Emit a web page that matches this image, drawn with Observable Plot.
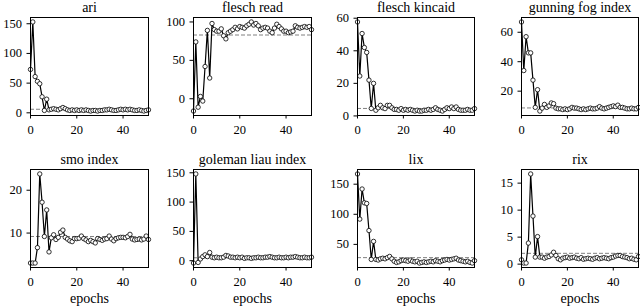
<!DOCTYPE html>
<html><head><meta charset="utf-8">
<script src="https://cdn.jsdelivr.net/npm/d3@7"></script>
<script src="https://cdn.jsdelivr.net/npm/@observablehq/plot@0.6"></script>
<style>
body{margin:0;background:#fff}
#chart{position:relative;width:640px;height:306px;overflow:hidden}
#chart svg{position:absolute;left:0;top:0}
</style>
</head><body><div id="chart"></div>
<script>
const epochs = Array.from({length: 52}, (_, i) => i);
const xTicks = [0, 20, 40];

const titles = ["ari", "flesch read", "flesch kincaid", "gunning fog index",
  "smo index", "goleman liau index", "lix", "rix"];

const ari = [73,153,61,53,49,27,4,23,5,6,7,6,5,7,9,7,5,4,5,4,5,4,5,4,5,4,3,4,4,3,4,4,5,5,6,5,4,4,5,6,5,6,5,6,5,4,4,5,4,3,4,5];
const fleschRead = [-16,74,-11,3,-3,42,89,27,98,90,88,88,91,82,78,86,88,90,93,91,94,93,92,95,97,100,96,98,95,90,92,93,92,88,86,92,97,94,91,88,88,86,87,88,95,93,92,93,94,93,94,90];
const fleschKincaid = [57.7,24.5,50.6,42,39,22,4.6,20,3.5,5,6.5,5,4.5,6.5,6.5,5,4,4,3.5,4.5,3.5,4,3.5,4,3.5,3,3.5,3,3,3.5,3.5,4,3.5,4,5,4,3.5,3,4,5,4.5,5.5,4.5,5.5,4,3.5,3.5,3.5,4,3.5,3.5,4.5];
const gunningFog = [67,34,57,46,46,27.5,9,21,6.5,8.5,11,9,10,12,11.5,8.5,8,8,7.5,8,7.5,8,9,8.5,8.5,8,7.5,8,7.5,8,8.5,8,8,8.5,9.5,8.5,8,8.5,9,9.5,10,9.5,10.5,9,9,8.5,8,8,8.5,8,8,9];
const smoIndex = [3.0,3.0,3.0,6.6,23.8,17.2,9.2,15.4,5.6,8.9,9.6,8.5,9.0,10.2,10.7,9.0,8.6,8.2,8.0,8.7,8.7,8.8,9.3,8.7,8.4,8.0,8.3,8.0,7.7,8.7,8.5,8.3,8.6,8.7,9.3,8.6,8.2,8.7,8.9,9.0,9.0,8.9,9.2,9.7,8.6,8.4,8.5,8.6,8.4,8.6,9.3,8.5];
const golemanLiau = [-4,148,-3,3,7,10,7,14,6,5,6,5,5,6,9,8,6,6,5,6,5,6,4,5,5,4,5,5,6,5,5,6,6,7,6,5,5,6,5,5,6,5,6,6,7,6,5,5,6,5,5,6];
const lix = [167,92,142,119,118,73,25,55,25,24,26,27,26,28,30,26,22,20,21,23,24,23,22,24,22,21,22,19,20,21,20,21,22,21,23,22,21,23,24,25,24,25,26,27,24,23,22,21,22,20,19,23];
const rix = [0.8,0.2,0.2,3.9,16.7,8.9,1.3,5.1,1.3,1.3,1.1,1.3,1.4,1.7,2.2,1.6,1.0,0.8,1.1,1.2,1.3,1.1,1.2,1.3,1.1,1.0,1.2,0.9,1.0,1.1,1.0,0.9,1.1,1.2,1.0,1.1,1.2,1.1,1.0,1.2,1.3,1.5,1.6,1.6,1.4,1.3,1.2,1.0,1.1,0.9,0.8,1.4];

const series = [ari, fleschRead, fleschKincaid, gunningFog, smoIndex, golemanLiau, lix, rix];
const refs = [6, 83, 4.6, 8.6, 9.2, 5, 28, 2.0];
const yTicks = [[0,50,100,150],[0,50,100],[0,20,40,60],[20,40,60],[10,20],[0,50,100,150],[50,100,150],[0,5,10,15]];

// layout of panel frames (px)
const colL = [30, 193, 357, 521], colR = [148, 311, 474, 638];
const rowT = [17, 169], rowB = [115, 267];
const W = 640, H = 306;
const FONT = "Liberation Serif";

const chart = document.getElementById("chart");
series.forEach((vals, i) => {
  const c = i % 4, r = Math.floor(i / 4);
  const rows = epochs.map((e, k) => ({epoch: e, value: vals[k]}));
  const lo0 = Math.min(d3.min(vals), refs[i]), hi0 = Math.max(d3.max(vals), refs[i]);
  const pad = 0.05 * (hi0 - lo0);
  const marks = [
    Plot.ruleY([refs[i]], {stroke: "#808080", strokeDasharray: "4,2", strokeWidth: 1}),
    Plot.line(rows, {x: "epoch", y: "value", stroke: "black", strokeWidth: 1.2}),
    Plot.dot(rows, {x: "epoch", y: "value", r: 2.2, fill: "white", stroke: "black", strokeWidth: 0.8}),
    Plot.frame({stroke: "black", strokeWidth: 1}),
    Plot.axisX({ticks: xTicks, tickSize: 3.5, tickPadding: 6, label: null, fontSize: 12.5, fontFamily: FONT}),
    Plot.axisY({ticks: yTicks[i], tickSize: 3.5, tickPadding: 5, label: null, fontSize: 12.5, fontFamily: FONT}),
    Plot.text([titles[i]], {text: d => d, frameAnchor: "top", lineAnchor: "middle", dy: -10, fontSize: 14, fontFamily: FONT})
  ];
  if (r === 1) marks.push(Plot.text(["epochs"], {text: d => d, frameAnchor: "bottom", lineAnchor: "middle", dy: 31, fontSize: 14, fontFamily: FONT}));
  const svg = Plot.plot({
    width: W, height: H,
    marginLeft: colL[c], marginRight: W - colR[c],
    marginTop: rowT[r], marginBottom: H - rowB[r],
    style: {background: "transparent", fontFamily: FONT, fontSize: "12px", color: "black"},
    x: {domain: [0, 51]},
    y: {domain: [lo0 - pad, hi0 + pad]},
    marks
  });
  chart.appendChild(svg);
});
</script></body></html>
